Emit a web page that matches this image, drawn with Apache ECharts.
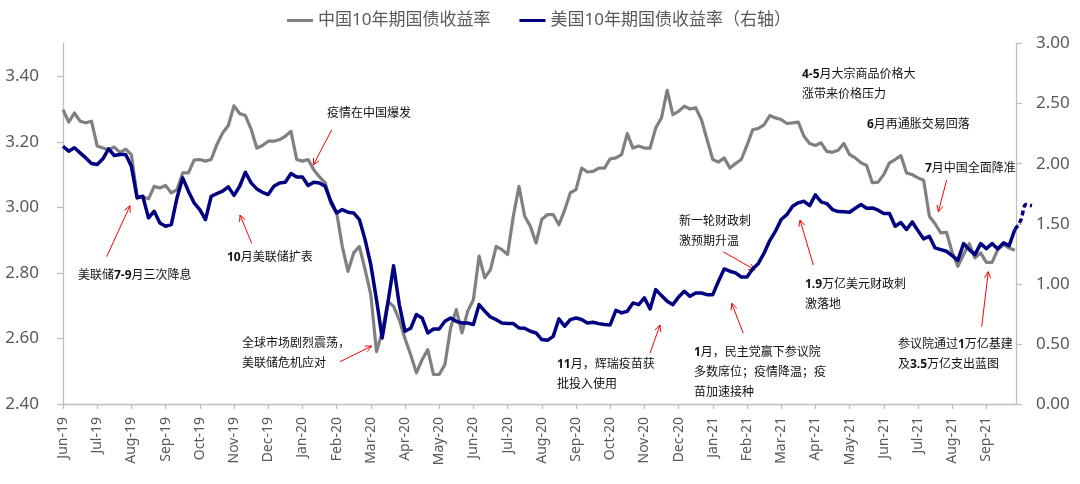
<!DOCTYPE html>
<html><head><meta charset="utf-8">
<script src="https://cdn.jsdelivr.net/npm/echarts@6/dist/echarts.min.js"></script>
<style>html,body{margin:0;padding:0;background:#fff}#c{width:1080px;height:484px}</style>
</head><body><div id="c"></div>
<script>
// ---- data (6 samples per month starting at Jun-19) ----
const monthLabels = ['Jun-19','Jul-19','Aug-19','Sep-19','Oct-19','Nov-19','Dec-19','Jan-20','Feb-20','Mar-20','Apr-20','May-20','Jun-20','Jul-20','Aug-20','Sep-20','Oct-20','Nov-20','Dec-20','Jan-21','Feb-21','Mar-21','Apr-21','May-21','Jun-21','Jul-21','Aug-21','Sep-21'];
const samplesPerMonth = 6;
const leftTicks = [2.40, 2.60, 2.80, 3.00, 3.20, 3.40];
const rightTicks = [0.00, 0.50, 1.00, 1.50, 2.00, 2.50, 3.00];
const seriesNames = ['中国10年期国债收益率', '美国10年期国债收益率（右轴）'];

const cnYield = [
3.298,3.260,3.288,3.263,3.258,3.263,3.187,3.181,3.176,3.184,3.168,3.178,
3.161,3.034,3.032,3.026,3.064,3.059,3.067,3.044,3.054,3.105,3.105,3.144,
3.146,3.141,3.146,3.192,3.227,3.250,3.310,3.286,3.280,3.239,3.181,3.189,
3.202,3.202,3.207,3.217,3.232,3.146,3.141,3.146,3.115,3.093,3.075,3.011,
2.985,2.881,2.805,2.861,2.881,2.810,2.734,2.560,2.620,2.713,2.698,2.657,
2.600,2.550,2.495,2.535,2.566,2.490,2.490,2.520,2.632,2.688,2.617,2.683,
2.718,2.851,2.785,2.810,2.881,2.871,2.856,2.973,3.064,2.973,2.942,2.891,
2.963,2.978,2.978,2.947,2.991,3.044,3.054,3.120,3.108,3.110,3.120,3.120,
3.148,3.151,3.161,3.225,3.181,3.187,3.181,3.181,3.243,3.273,3.357,3.283,
3.293,3.309,3.300,3.304,3.268,3.207,3.146,3.138,3.151,3.120,3.134,3.146,
3.189,3.237,3.241,3.252,3.280,3.273,3.268,3.256,3.258,3.260,3.217,3.195,
3.189,3.197,3.171,3.168,3.174,3.195,3.161,3.151,3.136,3.128,3.075,3.077,
3.100,3.136,3.146,3.158,3.105,3.100,3.090,3.083,2.973,2.950,2.922,2.924,
2.863,2.820,2.856,2.889,2.846,2.861,2.832,2.832,2.871,2.886,2.876,2.869
];
const usYield = [
2.145,2.104,2.132,2.090,2.048,2.001,1.993,2.040,2.123,2.068,2.076,2.076,
1.979,1.715,1.729,1.549,1.604,1.507,1.479,1.493,1.715,1.882,1.771,1.674,
1.618,1.535,1.729,1.751,1.771,1.807,1.736,1.812,1.929,1.840,1.790,1.762,
1.743,1.812,1.840,1.846,1.918,1.890,1.890,1.818,1.846,1.840,1.812,1.687,
1.590,1.618,1.596,1.590,1.535,1.368,1.160,0.869,0.550,0.841,1.150,0.827,
0.605,0.630,0.745,0.716,0.591,0.624,0.624,0.688,0.716,0.688,0.674,0.674,
0.661,0.827,0.772,0.724,0.702,0.674,0.669,0.669,0.633,0.630,0.605,0.591,
0.536,0.530,0.563,0.708,0.647,0.702,0.716,0.703,0.674,0.680,0.669,0.661,
0.658,0.780,0.758,0.772,0.841,0.827,0.883,0.791,0.952,0.902,0.855,0.827,
0.891,0.938,0.896,0.924,0.924,0.910,0.910,1.021,1.124,1.105,1.091,1.057,
1.057,1.124,1.170,1.255,1.360,1.438,1.535,1.576,1.646,1.674,1.687,1.651,
1.740,1.682,1.668,1.618,1.601,1.599,1.596,1.629,1.660,1.629,1.632,1.613,
1.585,1.585,1.479,1.510,1.452,1.515,1.443,1.374,1.396,1.299,1.285,1.271,
1.235,1.196,1.335,1.285,1.243,1.335,1.293,1.335,1.291,1.341,1.318,1.452
];
// dashed tail of the US series, starting at the last solid sample
const usTail = [1.452, 1.525, 1.660, 1.650];

// ---- annotations (layout only) ----
const notes = [
  {lines:['美联储7-9月三次降息'], x:78, y:276, arrow:[106.7,256.7,130,205.7]},
  {lines:['10月美联储扩表'], x:227, y:257.5, arrow:[251.7,243.3,240,215]},
  {lines:['疫情在中国爆发'], x:327, y:114, arrow:[331.7,130,313.3,165]},
  {lines:['全球市场剧烈震荡，','美联储危机应对'], x:242, y:344, arrow:[340,361.7,371.7,346]},
  {lines:['11月，辉瑞疫苗获','批投入使用'], x:557, y:365, arrow:[650,353.3,660,325]},
  {lines:['1月，民主党赢下参议院','多数席位；疫情降温；疫','苗加速接种'], x:694, y:352.7, arrow:[743.3,333.3,731.7,303.3]},
  {lines:['新一轮财政刺','激预期升温'], x:679, y:222, arrow:[723.3,251.7,755,270]},
  {lines:['1.9万亿美元财政刺','激落地'], x:805, y:285, arrow:[813.3,265,800,220]},
  {lines:['4-5月大宗商品价格大','涨带来价格压力'], x:802, y:75},
  {lines:['6月再通胀交易回落'], x:867, y:125},
  {lines:['7月中国全面降准'], x:925, y:169, arrow:[946.7,180,938.3,211.7]},
  {lines:['参议院通过1万亿基建','及3.5万亿支出蓝图'], x:898, y:345, arrow:[981.7,326.7,988.3,271.7]}
];

const FONT = '"Noto Sans", "Noto Sans CJK SC", sans-serif';
const axisGrey = '#bfbfbf';
const labelGrey = '#595959';

function arrowEls(a) {
  const [x1,y1,x2,y2] = a;
  const dx = x2-x1, dy = y2-y1, L = Math.hypot(dx,dy), ux = dx/L, uy = dy/L;
  const h = 7, an = 0.45, c = Math.cos(an), s = Math.sin(an);
  const p1 = [x2 - h*(ux*c - uy*s), y2 - h*(uy*c + ux*s)];
  const p2 = [x2 - h*(ux*c + uy*s), y2 - h*(uy*c - ux*s)];
  const st = {stroke:'#ff0000', lineWidth:1, fill:null};
  return [
    {type:'line', silent:true, shape:{x1,y1,x2,y2}, style:st},
    {type:'polyline', silent:true, shape:{points:[p1,[x2,y2],p2]}, style:st}
  ];
}
const graphics = [];
notes.forEach(n => {
  n.lines.forEach((t,k) => {
    graphics.push({type:'text', silent:true, x:n.x, y:n.y + k*20,
      style:{text:t.replace(/([0-9][0-9.\-]*)/g,'{b|$1}'), fill:'#111', font:'12px '+FONT,
        verticalAlign:'middle', align:'left',
        rich:{b:{fontWeight:'bold', fontSize:12, fontFamily:FONT, fill:'#111'}}}});
  });
  if (n.arrow) arrowEls(n.arrow).forEach(e => graphics.push(e));
});

// plot geometry: main grid spans to the right axis; a second, invisible grid
// with the same scale carries the dashed tail past the right axis line.
const G = {left:63, right:64, top:43.5, bottom:80};
const xMax = 167.2, tailMax = 172;
const pxPerUnit = (1080 - G.left - G.right) / xMax;
const tailRight = 1080 - G.left - tailMax * pxPerUnit;

const xTickVals = monthLabels.map((_,k) => k*samplesPerMonth);
const chart = echarts.init(document.getElementById('c'), null, {renderer:'canvas'});
chart.setOption({
  animation:false,
  backgroundColor:'#fff',
  textStyle:{fontFamily:FONT},
  legend:{data:seriesNames, top:12, left:287, padding:0, itemWidth:26, itemHeight:3, itemGap:29, icon:'rect',
    textStyle:{fontSize:17, color:labelGrey, fontFamily:FONT}},
  grid:[
    {left:G.left, right:G.right, top:G.top, bottom:G.bottom, containLabel:false, outerBoundsMode:'none'},
    {left:G.left, right:tailRight, top:G.top, bottom:G.bottom, containLabel:false, outerBoundsMode:'none'}
  ],
  xAxis:[
    {type:'value', gridIndex:0, min:0, max:xMax, interval:samplesPerMonth,
      axisLine:{show:true, lineStyle:{color:axisGrey, width:1.3}},
      axisTick:{show:true, length:5, lineStyle:{color:axisGrey, width:1.3}, customValues:xTickVals},
      splitLine:{show:false},
      axisLabel:{rotate:90, margin:13, fontSize:14, color:labelGrey, fontFamily:FONT,
        customValues:xTickVals,
        formatter:v => (Math.abs(v % samplesPerMonth) < 1e-6 ? (monthLabels[Math.round(v/samplesPerMonth)]||'') : '')}},
    {type:'value', gridIndex:1, min:0, max:tailMax, show:false}
  ],
  yAxis:[
    {type:'value', gridIndex:0, position:'left', min:leftTicks[0], max:3.5, interval:0.2,
      axisLine:{show:true, lineStyle:{color:axisGrey, width:1.3}},
      axisTick:{show:true, length:6, lineStyle:{color:axisGrey, width:1.3}, customValues:leftTicks},
      splitLine:{show:false},
      axisLabel:{margin:24, fontSize:17, color:labelGrey, fontFamily:FONT,
        customValues:leftTicks, formatter:v => v.toFixed(2)}},
    {type:'value', gridIndex:0, position:'right', min:rightTicks[0], max:rightTicks[rightTicks.length-1], interval:0.5,
      axisLine:{show:true, lineStyle:{color:axisGrey, width:1.3}},
      axisTick:{show:true, length:6, lineStyle:{color:axisGrey, width:1.3}},
      splitLine:{show:false},
      axisLabel:{margin:20, fontSize:17, color:labelGrey, fontFamily:FONT, formatter:v => v.toFixed(2)}},
    {type:'value', gridIndex:1, min:rightTicks[0], max:rightTicks[rightTicks.length-1], show:false}
  ],
  series:[
    {name:seriesNames[0], type:'line', xAxisIndex:0, yAxisIndex:0, showSymbol:false, z:2,
      data:cnYield.map((v,i)=>[i,v]), itemStyle:{color:'#808080'},
      lineStyle:{color:'#808080', width:3.2, join:'round'}},
    {name:seriesNames[1], type:'line', xAxisIndex:0, yAxisIndex:1, showSymbol:false, z:3,
      data:usYield.map((v,i)=>[i,v]), itemStyle:{color:'#000080'},
      lineStyle:{color:'#000080', width:3.5, join:'round'}},
    {name:'美国10年期国债收益率（预测）', type:'line', xAxisIndex:1, yAxisIndex:2, showSymbol:false, z:3, smooth:0.4,
      data:usTail.map((v,k)=>[usYield.length-1+k, v]), itemStyle:{color:'#000080'},
      lineStyle:{color:'#000080', width:3.5, type:[5,3]}}
  ],
  graphic:graphics
});
</script></body></html>
